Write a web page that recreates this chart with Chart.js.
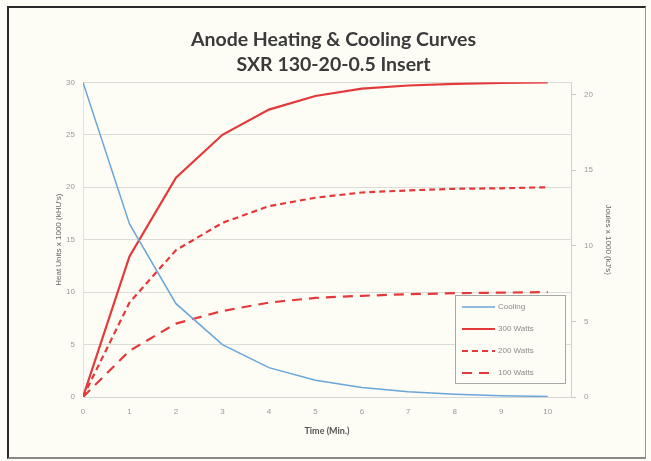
<!DOCTYPE html>
<html>
<head>
<meta charset="utf-8">
<script src="https://cdn.jsdelivr.net/npm/chart.js@4/dist/chart.umd.min.js"></script>
<style>
  html, body { margin: 0; padding: 0; background: #fbfbf6; }
  #wrap { position: relative; width: 651px; height: 461px; }
  canvas { position: absolute; left: 0; top: 0; }
  #frame { position: absolute; left: 7px; top: 6px; width: 636px; height: 449px;
           border-left: 2px solid #2a2a2a; border-top: 2px solid #2a2a2a;
           border-right: 1px solid #9a9a9a; border-bottom: 2px solid #8a8a8a;
           pointer-events: none; }
</style>
</head>
<body>
<div id="wrap">
  <canvas id="c" width="651" height="461"></canvas>
  <div id="frame"></div>
</div>
<script>
const titleLines = ["Anode Heating & Cooling Curves", "SXR 130-20-0.5 Insert"];
const timeMin = [0, 1, 2, 3, 4, 5, 6, 7, 8, 9, 10];
const cooling = [30, 16.5, 8.9, 5.0, 2.8, 1.6, 0.9, 0.5, 0.27, 0.12, 0.05];
const watts300 = [0, 13.4, 20.9, 25.0, 27.4, 28.7, 29.4, 29.7, 29.85, 29.95, 30];
const watts200 = [0, 9.0, 14.0, 16.6, 18.2, 19.0, 19.5, 19.7, 19.85, 19.9, 20];
const watts100 = [0, 4.4, 7.0, 8.2, 9.0, 9.45, 9.65, 9.8, 9.9, 9.95, 10];
const seriesNames = ["Cooling", "300 Watts", "200 Watts", "100 Watts"];
const leftTicks = [0, 5, 10, 15, 20, 25, 30];
const rightTicks = [0, 5, 10, 15, 20];
const xTitle = "Time (Min.)";
const leftTitle = "Heat Units x 1000 (kHU's)";
const rightTitle = "Joules x 1000 (kJ's)";

const pts = arr => arr.map((v, i) => ({ x: timeMin[i], y: v }));
const RED = '#e4393b';
const BLUE = '#6aa5d8';

const bgPlugin = {
  id: 'bg',
  beforeDraw(chart) {
    const ctx = chart.ctx;
    ctx.save();
    ctx.fillStyle = '#fdfcf5';
    ctx.fillRect(0, 0, chart.width, chart.height);
    ctx.restore();
  }
};

const legendBox = {
  id: 'legendBox',
  afterDatasetsDraw(chart) {
    const ctx = chart.ctx;
    const a = chart.chartArea;
    const w = 110, h = 88;
    const x0 = a.right - 116, y0 = a.bottom - 102;
    ctx.save();
    ctx.fillStyle = '#fdfcf5';
    ctx.fillRect(x0, y0, w, h);
    ctx.strokeStyle = '#a8a8a8';
    ctx.lineWidth = 1;
    ctx.strokeRect(x0 + 0.5, y0 + 0.5, w, h);
    ctx.font = '8px "Liberation Sans", Arial, sans-serif';
    ctx.textBaseline = 'middle';
    chart.data.datasets.forEach((ds, i) => {
      const yy = y0 + 12 + i * 22;
      ctx.beginPath();
      ctx.setLineDash(ds.borderDash || []);
      ctx.strokeStyle = ds.borderColor;
      ctx.lineWidth = ds.borderWidth;
      ctx.moveTo(x0 + 7, yy);
      ctx.lineTo(x0 + 40, yy);
      ctx.stroke();
      ctx.setLineDash([]);
      ctx.fillStyle = '#8c8c8c';
      ctx.fillText(ds.label, x0 + 43, yy);
    });
    ctx.restore();
  }
};

new Chart(document.getElementById('c'), {
  type: 'line',
  data: {
    datasets: [
      { label: seriesNames[0], data: pts(cooling), borderColor: BLUE, borderWidth: 1.5, yAxisID: 'y' },
      { label: seriesNames[1], data: pts(watts300), borderColor: RED, borderWidth: 2.2, yAxisID: 'y' },
      { label: seriesNames[2], data: pts(watts200), borderColor: RED, borderWidth: 2.2, borderDash: [6, 4], yAxisID: 'y' },
      { label: seriesNames[3], data: pts(watts100), borderColor: RED, borderWidth: 2.2, borderDash: [10, 7], yAxisID: 'y' }
    ]
  },
  options: {
    responsive: false,
    animation: false,
    events: [],
    elements: { point: { radius: 0 }, line: { tension: 0, borderCapStyle: 'butt' } },
    layout: { padding: { left: 52, right: 36, top: 0, bottom: 18 } },
    plugins: {
      legend: { display: false },
      tooltip: { enabled: false },
      title: {
        display: true,
        text: titleLines,
        color: '#3a3a3a',
        font: { family: 'Lato, "Open Sans", sans-serif', size: 19.5, weight: 'bold', lineHeight: 1.24 },
        padding: { top: 28, bottom: 6 }
      }
    },
    scales: {
      x: {
        type: 'linear', min: 0, max: 10.5,
        afterBuildTicks(scale) { scale.ticks = timeMin.map(v => ({ value: v })); },
        ticks: { color: '#9a9a9a', font: { size: 8, family: '"Liberation Sans", Arial, sans-serif' }, padding: 10, maxRotation: 0, autoSkip: false },
        grid: { display: false, drawTicks: false },
        border: { display: true, color: '#d6d6d6' },
        title: { display: true, text: xTitle, color: '#555', font: { size: 9, weight: 'bold', family: 'Lato, sans-serif' }, padding: { top: 4, bottom: 7 } },
        afterFit(scale) { scale.height = 46; }
      },
      y: {
        position: 'left', min: 0, max: 30,
        afterBuildTicks(scale) { scale.ticks = leftTicks.map(v => ({ value: v })); },
        ticks: { color: '#9a9a9a', font: { size: 8, family: '"Liberation Sans", Arial, sans-serif' }, padding: 8 },
        grid: { color: '#dcdcd6', drawTicks: false },
        border: { display: true, color: '#e2e2dc' },
        title: { display: true, text: leftTitle, color: '#666', font: { size: 8, family: '"Liberation Sans", Arial, sans-serif' }, padding: { top: 2, bottom: 2 } },
        afterFit(scale) { scale.width = 31; }
      },
      y2: {
        position: 'right', min: 0, max: 20.8,
        afterBuildTicks(scale) { scale.ticks = rightTicks.map(v => ({ value: v })); },
        ticks: { color: '#9a9a9a', font: { size: 8, family: '"Liberation Sans", Arial, sans-serif' }, padding: 8 },
        grid: { drawOnChartArea: false, drawTicks: true, tickLength: 5, color: '#c8c8c8' },
        border: { display: true, color: '#d0d0cc' },
        title: { display: true, text: rightTitle, color: '#666', font: { size: 8, family: '"Liberation Sans", Arial, sans-serif' }, padding: { top: 2, bottom: 2 } },
        afterFit(scale) { scale.width = 44; }
      }
    }
  },
  plugins: [bgPlugin, legendBox]
});
</script>
</body>
</html>
